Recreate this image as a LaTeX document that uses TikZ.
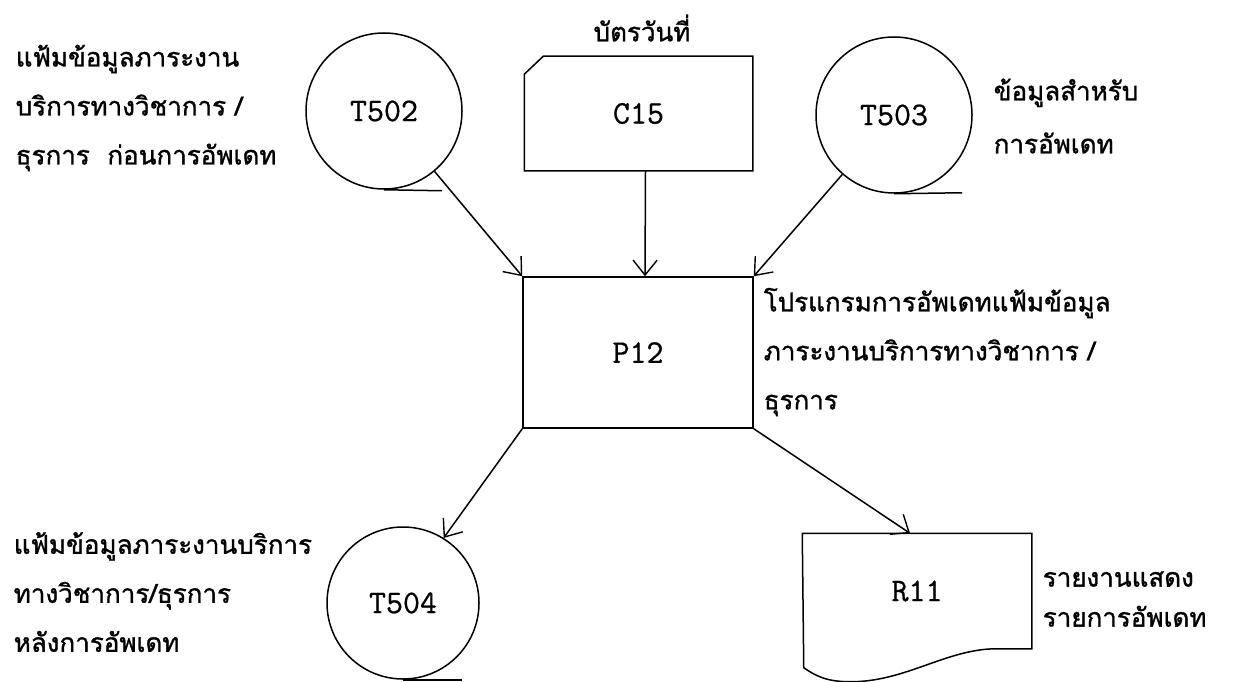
\documentclass[tikz,border=0pt]{standalone}
\usepackage{fontspec}
\newfontfamily\thaifont[Script=Thai,FakeBold=1.2]{Loma}
\newfontfamily\codefam[FakeBold=0.7]{Latin Modern Mono}
\usetikzlibrary{arrows.meta}
\newcommand\codefont{\codefam\fontsize{33}{33}\selectfont}
\begin{document}
\begin{tikzpicture}[x=1pt,y=-1pt,
  line width=1.5pt,
  arr/.style={-{Straight Barb[length=15pt,width=24pt,line width=1.4pt]}},
  tapefile/.style={circle,draw,minimum size=156pt,inner sep=0pt,font=\codefont},
  procbox/.style={rectangle,draw,minimum width=230pt,minimum height=151pt,inner sep=0pt,font=\codefont},
  shapebox/.style={rectangle,draw=none,inner sep=0pt,font=\codefont},
  thtext/.style={font=\thaifont\fontsize{26}{49}\selectfont,align=left,inner sep=0pt,anchor=west},
  thtextnarrow/.style={font=\thaifont\fontsize{26}{40}\selectfont,align=left,inner sep=0pt,anchor=west}]
\useasboundingbox (0,0) rectangle (1233,682);

% symbols
\node[tapefile] (t502) at (384,111) {T502};
\node[tapefile] (t503) at (894,115) {T503};
\node[tapefile,minimum size=152pt] (t504) at (403,603) {T504};
\node[shapebox,minimum width=227pt,minimum height=113pt] (c15) at (638.5,113.5) {C15};
\node[procbox] (p12) at (638,352.5) {P12};
\node[shapebox,minimum width=228pt,minimum height=114pt] (r11) at (917,591) {R11};

% tape tails
\draw (t502.south) -- ++(58,1);
\draw (t503.south) -- ++(68,-1);
\draw (t504.south) -- ++(59,0);

% punched card outline
\draw ([yshift=-18pt]c15.north west) -- ([xshift=19pt]c15.north west)
  -- (c15.north east) -- (c15.south east) -- (c15.south west) -- cycle;

% printed report outline with wavy bottom edge
\draw (r11.north west) -- (r11.north east) -- (r11.south east) -- ++(-35,0)
  .. controls +(-50,0) and +(55,0) .. ++(-146,33)
  .. controls +(-25,0) and +(12,8) .. ++(-47,-14) -- cycle;

% data flows
\draw[arr] (t502) -- (p12.north west);
\draw[arr] ([xshift=7pt]c15.south) -- ([xshift=7pt]p12.north);
\draw[arr] (t503) -- (p12.north east);
\draw[arr] (p12.south west) -- (t504.58);
\draw[arr] (p12.south east) -- ([xshift=-7pt]r11.north);

% descriptions
\node[thtext] (t502lab) at (15,108) {แฟ้มข้อมูลภาระงาน\\บริการทางวิชาการ /\\ธุรการ\ \ ก่อนการอัพเดท};
\node[font=\thaifont\fontsize{26}{30}\selectfont,inner sep=0pt] (c15lab) at (642,28) {บัตรวันที่};
\node[thtext,font=\thaifont\fontsize{26}{53}\selectfont] (t503lab) at (993,116) {ข้อมูลสำหรับ\\การอัพเดท};
\node[thtext] (p12lab) at (763,352) {โปรแกรมการอัพเดทแฟ้มข้อมูล\\ภาระงานบริการทางวิชาการ /\\ธุรการ};
\node[thtext] (t504lab) at (13,592) {แฟ้มข้อมูลภาระงานบริการ\\ทางวิชาการ/ธุรการ\\หลังการอัพเดท};
\node[thtextnarrow] (r11lab) at (1042,599) {รายงานแสดง\\รายการอัพเดท};
\end{tikzpicture}
\end{document}
